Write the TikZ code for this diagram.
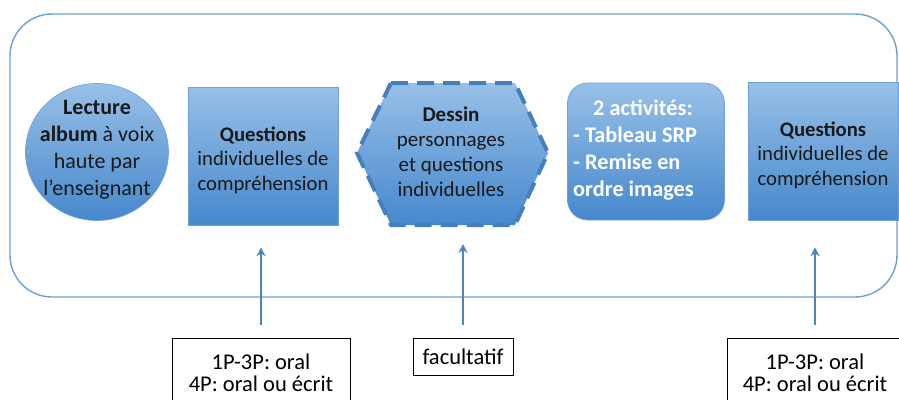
\documentclass[tikz,border=0pt]{standalone}
\usepackage{fontspec}
\setmainfont{Carlito}
\usetikzlibrary{arrows.meta,calc,shapes.geometric}
\definecolor{ltblue}{RGB}{152,192,232}
\definecolor{dkblue}{RGB}{70,136,204}
\definecolor{edgeblue}{RGB}{110,160,210}
\definecolor{hexedge}{RGB}{70,128,188}
\definecolor{arrblue}{RGB}{80,132,190}
\definecolor{txt}{RGB}{25,25,25}
\tikzset{
  bluefill/.style={top color=ltblue, bottom color=dkblue, draw=edgeblue, line width=0.6pt},
  bigtxt/.style={font=\fontsize{20.7}{24.5}\selectfont, text=txt, align=center},
  smalltxt/.style={font=\fontsize{22.5}{22.5}\selectfont, text=black, align=center, inner sep=0pt},
  notebox/.style={draw=black, line width=0.8pt, smalltxt},
  arr/.style={draw=arrblue, line width=1.8pt, -{Stealth[length=9pt,width=9pt]}},
}
\begin{document}
\begin{tikzpicture}[x=1pt,y=-1pt]
\useasboundingbox (0,0) rectangle (899,399);
\fill[white] (0,0) rectangle (899,399);
% outer frame
\draw[edgeblue, line width=1.4pt, rounded corners=42pt] (10,14) rectangle (897,297);
% circle
\node[ellipse, bluefill, minimum width=143pt, minimum height=137pt, inner sep=0pt] (c) at (97,152) {};
\node[bigtxt, font=\fontsize{22}{27}\selectfont] (ct) at (97,150) {\textbf{Lecture}\\\textbf{album} à voix\\haute par\\l’enseignant};
% square 1
\node[rectangle, bluefill, minimum width=150pt, minimum height=138pt, inner sep=0pt] (q1) at (263,156) {};
\node[bigtxt] (q1t) at (263,160) {\textbf{Questions}\\individuelles de\\compréhension};
% hexagon
\coordinate (h1) at (357,153);
\coordinate (h2) at (391,83);
\coordinate (h3) at (515,83);
\coordinate (h4) at (548,153);
\coordinate (h5) at (515,225);
\coordinate (h6) at (391,225);
\coordinate (hb) at (453,225);
\path[top color=ltblue, bottom color=dkblue] (h1)--(h2)--(h3)--(h4)--(h5)--(h6)--cycle;
\draw[hexedge, line width=4pt, dash pattern=on 17pt off 9pt, line join=miter] (h2)--(h3)--(h4)--(h5)--(h6)--(h1)--cycle;
\node[bigtxt, font=\fontsize{21}{25}\selectfont] (hx) at (451,152) {\textbf{Dessin}\\personnages\\et questions\\individuelles};
% rounded rect
\node[rectangle, rounded corners=20pt, bluefill, minimum width=157pt, minimum height=137pt, inner sep=0pt] (r) at (646,151.5) {};
\node[font=\fontsize{22.3}{27}\selectfont\bfseries, text=white, align=left, anchor=west, inner sep=0pt] (rt) at (573,150) {\hspace*{20pt}2 activités:\\- Tableau SRP\\- Remise en\\ordre images};
% square 3
\node[rectangle, bluefill, minimum width=150pt, minimum height=138pt, inner sep=0pt] (q3) at (823,151) {};
\node[bigtxt] (q3t) at (823,155) {\textbf{Questions}\\individuelles de\\compréhension};
% bottom boxes
\node[notebox, minimum width=178pt, minimum height=80pt, anchor=north] (b1) at (261,338) {};
\node[smalltxt] (b1t) at (261,373) {1P-3P: oral\\4P: oral ou écrit};
\node[notebox, minimum width=100pt, minimum height=37pt] (b2) at (463,356.5) {facultatif};
\node[notebox, minimum width=176pt, minimum height=80pt, anchor=north] (b3) at (815,338) {};
\node[smalltxt] (b3t) at (815,373) {1P-3P: oral\\4P: oral ou écrit};
% arrows
\draw[arr, shorten <=13pt, shorten >=22pt] (b1.north) -- (b1.north |- q1.south);
\draw[arr, shorten <=13pt, shorten >=19pt] (b2.north) -- (b2.north |- hb);
\draw[arr, shorten <=13pt, shorten >=27pt] (b3.north) -- (b3.north |- q3.south);
\end{tikzpicture}
\end{document}
